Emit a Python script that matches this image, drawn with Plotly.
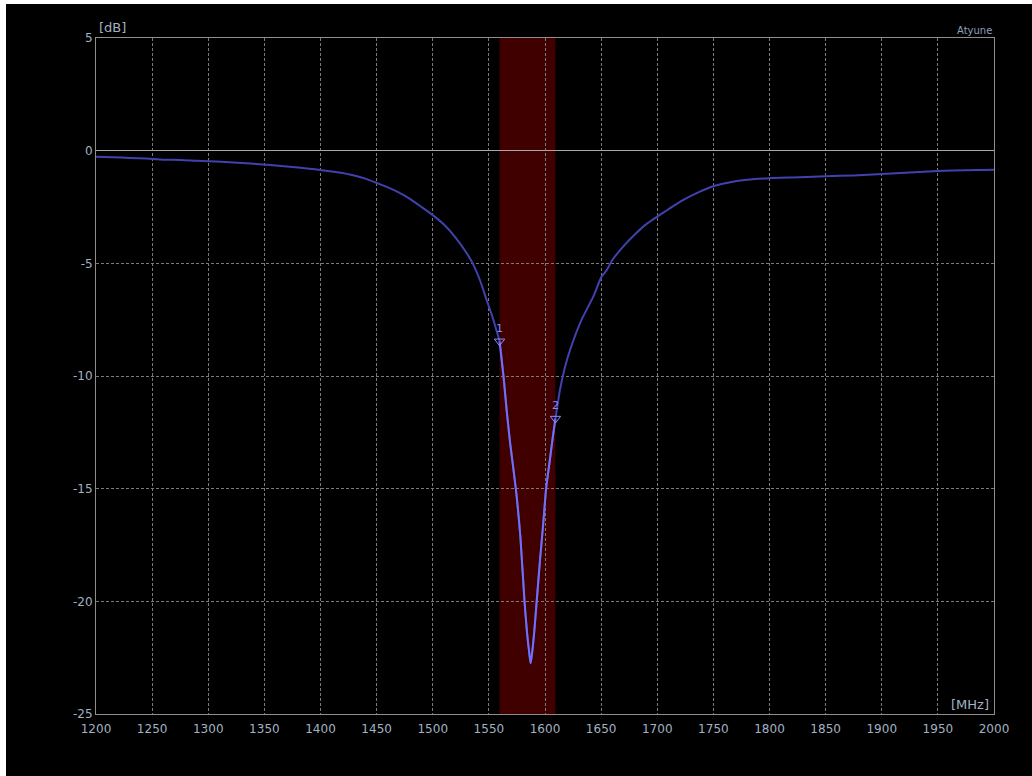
import plotly.graph_objects as go

# ---- data ----
freq_mhz = [1200, 1215, 1230, 1245, 1260, 1275, 1290, 1300, 1315, 1330, 1345, 1360,
            1375, 1390, 1400, 1415, 1430, 1440, 1450, 1460, 1470, 1480, 1490, 1500,
            1510, 1520, 1530, 1535.6, 1542, 1548, 1553, 1556, 1559.5, 1563, 1566,
            1569, 1574, 1578, 1581.6, 1584, 1586, 1587.2, 1588.5, 1590.5, 1592.6,
            1595.5, 1598.5, 1601, 1604, 1607, 1609.3, 1613.4, 1617.8, 1622.3, 1632.6,
            1643, 1650.4, 1655, 1660, 1670, 1680, 1690, 1700, 1710, 1722, 1737, 1750,
            1765, 1780, 1800, 1827, 1850, 1875, 1900, 1925, 1950, 1975, 2000]
gain_db = [-0.27, -0.29, -0.32, -0.35, -0.40, -0.41, -0.45, -0.47, -0.50, -0.55, -0.60, -0.66,
           -0.72, -0.80, -0.86, -0.96, -1.10, -1.24, -1.43, -1.63, -1.86, -2.15, -2.50, -2.86,
           -3.28, -3.84, -4.53, -5.00, -5.74, -6.63, -7.35, -7.85, -8.46, -10.00, -11.60,
           -13.00, -15.00, -17.10, -19.90, -21.40, -22.30, -22.75, -22.30, -21.30, -20.00,
           -18.20, -16.50, -15.00, -13.85, -12.70, -11.89, -10.60, -9.60, -8.85, -7.50,
           -6.48, -5.59, -5.30, -4.85, -4.24, -3.72, -3.27, -2.93, -2.60, -2.22, -1.84, -1.58,
           -1.40, -1.29, -1.22, -1.18, -1.13, -1.10, -1.04, -0.97, -0.90, -0.87, -0.85]

marker_ids = ["1", "2"]
marker_freq = [1559.5, 1609.3]
marker_db = [-8.46, -11.89]

band_mhz = [1559.5, 1609.3]

x_ticks = list(range(1200, 2001, 50))
x_labels = [str(v) for v in x_ticks]
y_ticks = [-25, -20, -15, -10, -5, 0, 5]
y_labels = ["-25", "-20", "-15", "-10", "-5", "0", "5"]

# ---- styling ----
W, H = 1032, 776
L, R, T, B = 96, 38, 38, 62
TXT = "#a3b1c2"
GRID = "#7a7a7a"
FONT = "DejaVu Sans"

band_f = [f for f in freq_mhz if band_mhz[0] <= f <= band_mhz[1]]
band_g = [g for f, g in zip(freq_mhz, gain_db) if band_mhz[0] <= f <= band_mhz[1]]

fig = go.Figure()
fig.add_trace(go.Scatter(x=freq_mhz, y=gain_db, mode="lines",
                         line=dict(color="#4141b0", width=2, shape="spline", smoothing=0.6),
                         hoverinfo="skip"))
fig.add_trace(go.Scatter(x=band_f, y=band_g, mode="lines",
                         line=dict(color="#7070f8", width=2, shape="spline", smoothing=0.6),
                         hoverinfo="skip"))
fig.add_trace(go.Scatter(x=marker_freq, y=marker_db, mode="markers+text",
                         text=marker_ids, textposition="top center",
                         textfont=dict(family=FONT, size=11, color="#8c8cff"),
                         marker=dict(symbol="triangle-down-open", size=9,
                                     color="#8c8cff", line=dict(width=1, color="#8c8cff")),
                         hoverinfo="skip"))

pw, ph = W - L - R, H - T - B
shapes = [
    dict(type="rect", xref="paper", yref="paper",
         x0=(6 - L) / pw, x1=(W - L) / pw,
         y0=-(B) / ph, y1=1 + (T - 4) / ph,
         fillcolor="black", line=dict(width=0), layer="below"),
    dict(type="rect", xref="x", yref="paper", x0=band_mhz[0], x1=band_mhz[1],
         y0=0, y1=1, fillcolor="#400000", line=dict(width=0), layer="below"),
]

axis_common = dict(showline=True, linecolor="#8e8e8e", linewidth=1, mirror=True,
                   showgrid=True, gridcolor=GRID, gridwidth=1, griddash="3px,2px",
                   ticks="", tickfont=dict(family=FONT, size=12, color=TXT))

fig.update_layout(
    width=W, height=H,
    margin=dict(l=L, r=R, t=T, b=B, pad=0),
    paper_bgcolor="white", plot_bgcolor="black",
    showlegend=False, hovermode=False,
    shapes=shapes,
    xaxis=dict(range=[1200, 2000], tickvals=x_ticks, ticktext=x_labels, zeroline=False,
               ticklabelstandoff=4, **axis_common),
    yaxis=dict(range=[-25, 5], tickvals=y_ticks, ticktext=y_labels, zeroline=True,
               zerolinecolor="#a8a8a8", zerolinewidth=1, **axis_common),
    annotations=[
        dict(text="[dB]", xref="paper", yref="paper", x=0, y=1, xanchor="left",
             yanchor="bottom", showarrow=False, xshift=1, yshift=1,
             font=dict(family=FONT, size=13, color=TXT)),
        dict(text="Atyune", xref="paper", yref="paper", x=1, y=1, xanchor="right",
             yanchor="bottom", showarrow=False, yshift=0,
             font=dict(family=FONT, size=10, color="#8f9fb8")),
        dict(text="[MHz]", xref="paper", yref="paper", x=1, y=0, xanchor="right",
             yanchor="bottom", showarrow=False, xshift=-3, yshift=0,
             font=dict(family=FONT, size=13, color=TXT)),
    ],
)

fig.write_html("out.html", config={"displayModeBar": False},
               post_script="document.body.style.margin='0';")
